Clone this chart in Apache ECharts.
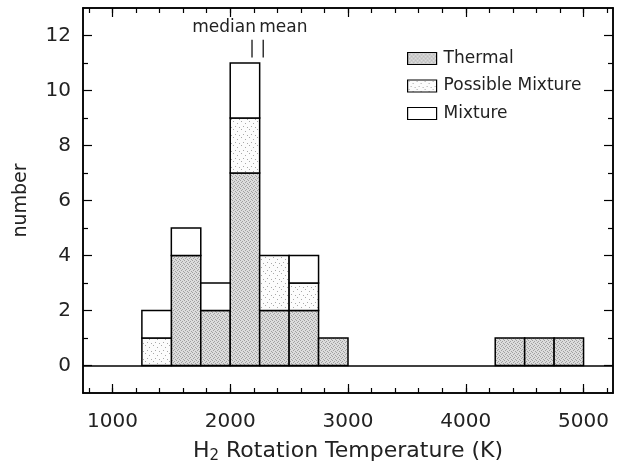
<!DOCTYPE html>
<html><head><meta charset="utf-8">
<script src="https://cdn.jsdelivr.net/npm/echarts@6/dist/echarts.min.js"></script>
<style>html,body{margin:0;padding:0;background:#fff}#c{width:618px;height:464px}</style>
</head><body><div id="c"></div>
<script>
// ---- data ----
const binStarts = [1250, 1500, 1750, 2000, 2250, 2500, 2750, 4250, 4500, 4750];
const binWidth = 250;
const thermal  = [0, 4, 2, 7, 2, 2, 1, 1, 1, 1];
const possible = [1, 0, 0, 2, 2, 1, 0, 0, 0, 0];
const mixture  = [1, 1, 1, 2, 0, 1, 0, 0, 0, 0];
const seriesNames = ['Thermal', 'Possible Mixture', 'Mixture'];
const statNames = ['median', 'mean'];
const statValues = [2185, 2280];
const xMajorTicks = [1000, 2000, 3000, 4000, 5000];
const xMinorTicks = [800, 1000, 1200, 1400, 1600, 1800, 2000, 2200, 2400, 2600, 2800, 3000, 3200, 3400, 3600, 3800, 4000, 4200, 4400, 4600, 4800, 5000, 5200];
const yMajorTicks = [0, 2, 4, 6, 8, 10, 12];
const yMinorTicks = [1, 3, 5, 7, 9, 11];
const xTitle = '{a|H}{s|2}{a| Rotation Temperature (K)}';
const yTitle = 'number';

// ---- styles ----
const FONT = 'DejaVu Sans';
const TXT = '#222';
const LINE = '#000';

function makePattern(bg, dot, size, dots) {
  const c = document.createElement('canvas');
  c.width = size; c.height = size;
  const g = c.getContext('2d');
  g.fillStyle = bg; g.fillRect(0, 0, size, size);
  g.fillStyle = dot;
  dots.forEach(d => g.fillRect(d[0], d[1], 1, 1));
  return c;
}
const thermalPat = {type: 'pattern', image: makePattern('#dcdcdc', '#a0a0a0', 4, [[0,0],[2,1],[1,2],[3,3]]), repeat: 'repeat'};
const possiblePat = {type: 'pattern', image: makePattern('#fcfcfc', '#a8a8a8', 8, [[1,1],[5,3],[3,6],[7,7]]), repeat: 'repeat'};
const fills = [thermalPat, possiblePat, '#ffffff'];

// stacked rects
const layers = [thermal, possible, mixture];
const base = binStarts.map(() => 0);
const seriesData = layers.map(arr => {
  const out = [];
  arr.forEach((v, i) => {
    if (v > 0) out.push([binStarts[i], binStarts[i] + binWidth, base[i], base[i] + v]);
    base[i] += v;
  });
  return out;
});

function rectRender(fill) {
  return function (params, api) {
    const p0 = api.coord([api.value(0), api.value(2)]);
    const p1 = api.coord([api.value(1), api.value(3)]);
    return {
      type: 'rect',
      shape: {x: p0[0], y: p1[1], width: p1[0] - p0[0], height: p0[1] - p1[1]},
      style: {fill: fill, stroke: LINE, lineWidth: 1.5}
    };
  };
}

const axisLineStyle = {color: LINE, width: 1.5};
function xAx(pos, ticks, len, labels) {
  const a = {
    type: 'value', position: pos, min: 750, max: 5250,
    axisLine: {show: true, onZero: false, lineStyle: axisLineStyle},
    axisTick: {show: true, inside: true, length: len, customValues: ticks, lineStyle: {color: LINE, width: 1.2}},
    axisLabel: labels ? {customValues: xMajorTicks, margin: 19, fontSize: 20, fontFamily: FONT, color: TXT,
                         formatter: v => String(v)} : {show: false},
    splitLine: {show: false}
  };
  if (labels) {
    a.name = xTitle;
    a.nameLocation = 'middle';
    a.nameGap = 45;
    a.nameTextStyle = {
      fontFamily: FONT, color: TXT, fontSize: 22,
      rich: {
        a: {fontFamily: FONT, color: TXT, fontSize: 22, lineHeight: 26},
        s: {fontFamily: FONT, color: TXT, fontSize: 15, lineHeight: 10, verticalAlign: 'bottom'}
      }
    };
  }
  return a;
}
function yAx(pos, ticks, len, labels) {
  const a = {
    type: 'value', position: pos, min: -1, max: 13,
    axisLine: {show: true, onZero: false, lineStyle: axisLineStyle},
    axisTick: {show: true, inside: true, length: len, customValues: ticks, lineStyle: {color: LINE, width: 1.2}},
    axisLabel: labels ? {customValues: yMajorTicks, margin: 12, fontSize: 20, fontFamily: FONT, color: TXT} : {show: false},
    splitLine: {show: false}
  };
  if (labels) {
    a.name = yTitle;
    a.nameLocation = 'middle';
    a.nameGap = 52;
    a.nameTextStyle = {fontFamily: FONT, color: TXT, fontSize: 19};
  }
  return a;
}

const series = seriesNames.map((n, k) => ({
  name: n,
  type: 'custom',
  xAxisIndex: 0, yAxisIndex: 0,
  itemStyle: {color: fills[k], borderColor: LINE, borderWidth: 1.2},
  renderItem: rectRender(fills[k]),
  encode: {x: [0, 1], y: [2, 3]},
  data: seriesData[k],
  z: 3
}));
// zero baseline
series[0].markLine = {
  silent: true, symbol: 'none', animation: false,
  label: {show: false},
  lineStyle: {color: LINE, width: 1.5, type: 'solid'},
  data: [{yAxis: 0}]
};
// median / mean markers
series.push({
  name: 'stats', type: 'custom', xAxisIndex: 0, yAxisIndex: 0,
  data: statValues.map((v, i) => [v, i]),
  encode: {x: 0},
  renderItem: function (params, api) {
    const v = api.value(0), i = api.value(1);
    const p0 = api.coord([v, 11.2]);
    const p1 = api.coord([v, 11.85]);
    const pt = api.coord([v, 12.27]);
    return {
      type: 'group',
      children: [
        {type: 'line', shape: {x1: p0[0], y1: p0[1], x2: p1[0], y2: p1[1]}, style: {stroke: LINE, lineWidth: 1.2}},
        {type: 'text', x: i === 0 ? pt[0] + 4 : pt[0] - 4, y: pt[1],
         style: {text: statNames[i], fontFamily: FONT, fontSize: 17, fill: TXT,
                 align: i === 0 ? 'right' : 'left', verticalAlign: 'middle'}}
      ]
    };
  },
  z: 4
});

const chart = echarts.init(document.getElementById('c'), null, {renderer: 'canvas'});
chart.setOption({
  animation: false,
  backgroundColor: '#fff',
  grid: {left: 83, right: 5, top: 8, bottom: 71, containLabel: false, outerBoundsMode: 'none'},
  legend: {
    data: seriesNames, orient: 'vertical', left: 402, top: 45,
    itemWidth: 29, itemHeight: 12, itemGap: 10.5,
    icon: 'rect',
    textStyle: {fontFamily: FONT, fontSize: 17, color: TXT, padding: [0, 0, 0, 2]},
    itemStyle: {borderColor: LINE, borderWidth: 1.2},
    selectedMode: false
  },
  xAxis: [xAx('bottom', xMajorTicks, 9, true), xAx('bottom', xMinorTicks, 5, false),
          xAx('top', xMajorTicks, 9, false), xAx('top', xMinorTicks, 5, false)],
  yAxis: [yAx('left', yMajorTicks, 9, true), yAx('left', yMinorTicks, 5, false),
          yAx('right', yMajorTicks, 9, false), yAx('right', yMinorTicks, 5, false)],
  series: series
});
</script></body></html>
